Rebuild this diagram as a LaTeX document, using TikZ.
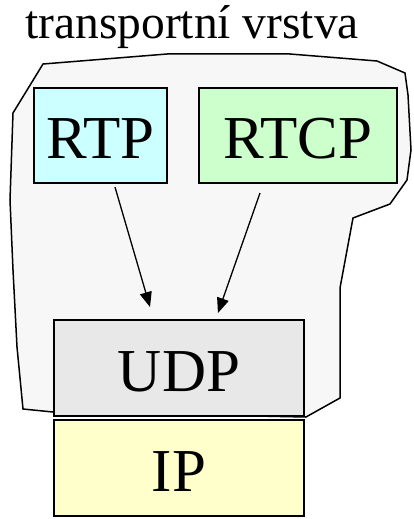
\documentclass[tikz,border=0pt]{standalone}
\usepackage{fontspec}
\setmainfont{Liberation Serif}
\usetikzlibrary{arrows.meta}
\definecolor{rtpc}{HTML}{CCFFFF}
\definecolor{rtcpc}{HTML}{CCFFCC}
\definecolor{udpc}{HTML}{E8E8E8}
\definecolor{ipc}{HTML}{FFFFCC}
\definecolor{layerc}{HTML}{F7F7F7}
\tikzset{
  layerbox/.style={draw=black, line width=1.6pt, inner sep=0pt, outer sep=0pt,
    font=\fontsize{61}{61}\selectfont, text height=46pt, text depth=0pt},
  outline/.style={draw=black, fill=layerc, line width=1.5pt, line join=miter},
  arr/.style={line width=1.3pt, -{Triangle[length=15pt,width=12pt]}},
  titletext/.style={font=\fontsize{47.5}{47.5}\selectfont, inner sep=0pt, anchor=base west}
}
\begin{document}
\begin{tikzpicture}[x=1pt,y=-1pt]
\useasboundingbox (0,0) rectangle (414,519);
\node[titletext] (title) at (25,39) {transportní vrstva};
\draw[outline] (43,64) -- (167,54) -- (290,54) -- (377,61) -- (405,73) -- (408,95)
  -- (411,150) -- (407,180) -- (390,204) -- (353,218) -- (340,288) -- (340,398)
  -- (306,417) -- (53,412) -- (23,409) -- (17,347) -- (13,270) -- (10,200)
  -- (13,113) -- cycle;
\node[layerbox, fill=rtpc, minimum width=133pt, minimum height=95pt] (rtp) at (100.5,135.5) {RTP};
\node[layerbox, fill=rtcpc, minimum width=198pt, minimum height=95pt] (rtcp) at (298,135.5) {RTCP};
\node[layerbox, fill=udpc, minimum width=250pt, minimum height=96pt] (udp) at (179,368) {UDP};
\node[layerbox, fill=ipc, minimum width=250pt, minimum height=96pt] (ip) at (179,468) {IP};
\draw[arr, shorten <=4.2pt, shorten >=13.5pt] ([xshift=13.3pt]rtp.south) -- ([xshift=-25.2pt]udp.north);
\draw[arr, shorten <=10.6pt, shorten >=7.4pt] ([xshift=-34.5pt]rtcp.south) -- ([xshift=36.5pt]udp.north);
\end{tikzpicture}
\end{document}
